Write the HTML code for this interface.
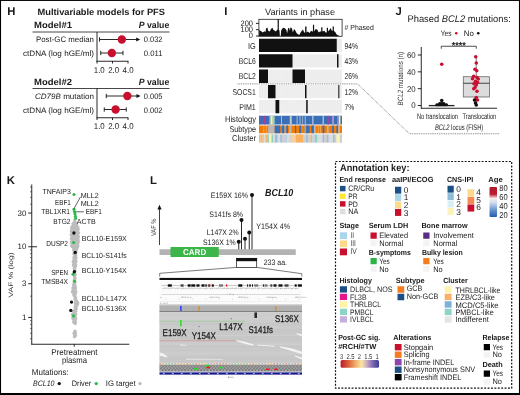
<!DOCTYPE html>
<html lang="en"><head><meta charset="utf-8"><title>Figure panels H-L</title>
<style>
html,body{margin:0;padding:0;background:#fff;}
body{width:520px;height:395px;overflow:hidden;font-family:"Liberation Sans", sans-serif;}
svg{display:block;font-family:"Liberation Sans", sans-serif;}
</style></head><body>
<svg width="520" height="395" viewBox="0 0 520 395" text-rendering="geometricPrecision">
<rect x="0" y="0" width="520" height="395" fill="#fff"/>
<g fill="#1a1a1a">
<text x="7.3" y="14.5" font-size="11.3" font-weight="bold">H</text>
<text x="37.5" y="14.5" font-size="9.04" font-weight="bold" textLength="127.5" lengthAdjust="spacingAndGlyphs">Multivariable models for PFS</text>
<text x="34" y="28" font-size="9.04" font-weight="bold" textLength="38" lengthAdjust="spacingAndGlyphs">Model#1</text>
<text x="138.75" y="28" font-size="9.04" font-weight="bold" textLength="30.5" lengthAdjust="spacingAndGlyphs"><tspan font-style="italic">P</tspan> value</text>
<line x1="32.5" y1="32" x2="169.5" y2="32" stroke="#333" stroke-width="0.9" />
<line x1="97" y1="32" x2="97" y2="61.5" stroke="#111" stroke-width="0.9" />
<line x1="96.6" y1="61.25" x2="128.4" y2="61.25" stroke="#111" stroke-width="0.9" />
<line x1="97" y1="61.25" x2="97" y2="63.5" stroke="#111" stroke-width="0.9" />
<line x1="112.5" y1="61.25" x2="112.5" y2="63.5" stroke="#111" stroke-width="0.9" />
<line x1="128" y1="61.25" x2="128" y2="63.5" stroke="#111" stroke-width="0.9" />
<text x="93.75" y="72.5" font-size="8.47" textLength="11" lengthAdjust="spacingAndGlyphs">1.0</text>
<text x="108.2" y="72.5" font-size="8.47" textLength="11" lengthAdjust="spacingAndGlyphs">2.0</text>
<text x="122.6" y="72.5" font-size="8.47" textLength="11" lengthAdjust="spacingAndGlyphs">4.0</text>
<text x="36" y="42" font-size="7.91" textLength="58" lengthAdjust="spacingAndGlyphs">Post-GC median</text>
<text x="143.75" y="42" font-size="7.91" textLength="18.75" lengthAdjust="spacingAndGlyphs">0.032</text>
<text x="23" y="55.5" font-size="7.91" textLength="71" lengthAdjust="spacingAndGlyphs">ctDNA (log hGE/ml)</text>
<text x="143.75" y="55.5" font-size="7.91" textLength="18.75" lengthAdjust="spacingAndGlyphs">0.011</text>
<line x1="99.5" y1="39.5" x2="138.2" y2="39.5" stroke="#111" stroke-width="0.9" />
<line x1="99.5" y1="37.3" x2="99.5" y2="41.7" stroke="#111" stroke-width="0.9" />
<polygon points="140.2,39.5 136.2,37.5 136.2,41.5" fill="#111"/>
<circle cx="121.85" cy="39.5" r="4.2" fill="#c8102e" />
<line x1="100.75" y1="53" x2="123" y2="53" stroke="#111" stroke-width="0.9" />
<line x1="100.75" y1="50.8" x2="100.75" y2="55.2" stroke="#111" stroke-width="0.9" />
<line x1="123" y1="50.8" x2="123" y2="55.2" stroke="#111" stroke-width="0.9" />
<circle cx="111.85" cy="53" r="4.2" fill="#c8102e" />
<text x="34" y="84.5" font-size="9.04" font-weight="bold" textLength="38" lengthAdjust="spacingAndGlyphs">Model#2</text>
<text x="138.75" y="84.5" font-size="9.04" font-weight="bold" textLength="30.5" lengthAdjust="spacingAndGlyphs"><tspan font-style="italic">P</tspan> value</text>
<line x1="32.5" y1="88.5" x2="169.5" y2="88.5" stroke="#333" stroke-width="0.9" />
<line x1="97" y1="88.5" x2="97" y2="118.0" stroke="#111" stroke-width="0.9" />
<line x1="96.6" y1="117.75" x2="128.4" y2="117.75" stroke="#111" stroke-width="0.9" />
<line x1="97" y1="117.75" x2="97" y2="120.0" stroke="#111" stroke-width="0.9" />
<line x1="112.5" y1="117.75" x2="112.5" y2="120.0" stroke="#111" stroke-width="0.9" />
<line x1="128" y1="117.75" x2="128" y2="120.0" stroke="#111" stroke-width="0.9" />
<text x="93.75" y="129.0" font-size="8.47" textLength="11" lengthAdjust="spacingAndGlyphs">1.0</text>
<text x="108.2" y="129.0" font-size="8.47" textLength="11" lengthAdjust="spacingAndGlyphs">2.0</text>
<text x="122.6" y="129.0" font-size="8.47" textLength="11" lengthAdjust="spacingAndGlyphs">4.0</text>
<text x="35" y="99.0" font-size="7.91" textLength="59" lengthAdjust="spacingAndGlyphs"><tspan font-style="italic">CD79B</tspan> mutation</text>
<text x="143.75" y="99.0" font-size="7.91" textLength="18.75" lengthAdjust="spacingAndGlyphs">0.005</text>
<text x="23" y="112.8" font-size="7.91" textLength="71" lengthAdjust="spacingAndGlyphs">ctDNA (log hGE/ml)</text>
<text x="143.75" y="112.8" font-size="7.91" textLength="18.75" lengthAdjust="spacingAndGlyphs">0.002</text>
<line x1="106.25" y1="96.0" x2="138.5" y2="96.0" stroke="#111" stroke-width="0.9" />
<line x1="106.25" y1="93.8" x2="106.25" y2="98.2" stroke="#111" stroke-width="0.9" />
<polygon points="140.5,96.0 136.5,94.0 136.5,98.0" fill="#111"/>
<circle cx="127.35" cy="96.0" r="4.2" fill="#c8102e" />
<line x1="104.25" y1="109.5" x2="126.25" y2="109.5" stroke="#111" stroke-width="0.9" />
<line x1="104.25" y1="107.3" x2="104.25" y2="111.7" stroke="#111" stroke-width="0.9" />
<line x1="126.25" y1="107.3" x2="126.25" y2="111.7" stroke="#111" stroke-width="0.9" />
<circle cx="115.6" cy="109.5" r="4.2" fill="#c8102e" />
<text x="224.3" y="14.5" font-size="11.3" font-weight="bold">I</text>
<text x="265" y="14.5" font-size="9.04" textLength="70" lengthAdjust="spacingAndGlyphs">Variants in phase</text>
<polygon points="259.11,36.24 259.11,29.84 260.33,30.71 261.54,31.57 262.92,32.44 264.30,31.22 265.52,31.92 266.03,28.46 267.42,27.42 268.11,30.71 269.84,31.57 270.88,28.98 272.44,27.76 273.30,29.84 274.69,30.71 275.90,31.57 277.11,29.84 277.63,29.84 277.63,19.11 278.84,19.11 278.84,29.84 279.53,30.71 279.88,36.24 280.74,36.24 281.09,30.71 282.30,28.46 283.68,27.76 285.07,28.46 286.28,29.84 287.14,33.30 288.18,28.11 289.22,28.11 289.74,30.71 290.60,27.25 291.99,28.46 292.85,32.44 294.06,28.98 295.45,30.71 296.66,33.30 298.04,34.17 299.25,35.03 300.64,32.44 301.85,30.71 303.06,29.49 304.10,32.44 305.13,32.44 305.13,26.38 306.52,26.38 306.52,32.44 307.90,31.57 309.63,32.96 311.02,30.71 312.23,31.57 312.92,31.57 312.92,24.65 314.13,24.65 314.13,31.57 315.69,28.98 317.42,29.84 318.63,32.44 320.01,31.57 321.22,31.57 321.22,27.25 322.44,27.25 322.44,31.57 324.34,30.71 325.55,32.44 326.76,32.44 326.76,27.76 327.97,27.76 327.97,31.57 329.53,29.84 330.74,28.11 331.78,30.71 332.64,30.71 332.64,26.38 333.85,26.38 333.85,30.71 335.58,32.44 336.45,34.17 338.18,35.38 339.91,35.90 340.78,36.24 340.78,36.24" fill="#111"/>
<rect x="258.9" y="19.3" width="83.2" height="17" fill="none" stroke="#222" stroke-width="0.8"/>
<text x="253" y="25.9" font-size="7.91" text-anchor="end" textLength="12.51" lengthAdjust="spacingAndGlyphs">200</text>
<text x="253" y="32.1" font-size="7.91" text-anchor="end" textLength="12.51" lengthAdjust="spacingAndGlyphs">100</text>
<text x="253" y="38.3" font-size="7.91" text-anchor="end" textLength="4.17" lengthAdjust="spacingAndGlyphs">0</text>
<line x1="256" y1="23.4" x2="258.9" y2="23.4" stroke="#111" stroke-width="0.9" />
<line x1="256" y1="29.7" x2="258.9" y2="29.7" stroke="#111" stroke-width="0.9" />
<line x1="256" y1="36" x2="258.9" y2="36" stroke="#111" stroke-width="0.9" />
<text x="344.5" y="29.5" font-size="7.34" textLength="29.25" lengthAdjust="spacingAndGlyphs"># Phased</text>
<defs><pattern id="cols" x="259" y="0" width="1.66" height="10" patternUnits="userSpaceOnUse"><rect x="0" y="0" width="1.66" height="10" fill="#ececec"/><rect x="1.4" y="0" width="0.26" height="10" fill="#f8f8f8"/></pattern></defs>
<rect x="259" y="38.75" width="83" height="13.25" fill="url(#cols)" />
<rect x="259" y="38.75" width="77.75" height="13.25" fill="#111" />
<text x="255.75" y="48.75" font-size="8.47" text-anchor="end" textLength="7.75" lengthAdjust="spacingAndGlyphs">IG</text>
<text x="344.5" y="48.75" font-size="8.47" textLength="13.5" lengthAdjust="spacingAndGlyphs">94%</text>
<rect x="259" y="54.25" width="83" height="13.25" fill="url(#cols)" />
<rect x="259" y="54.25" width="33.5" height="13.25" fill="#111" />
<rect x="337" y="54.25" width="1.5" height="13.25" fill="#111" />
<text x="255.75" y="63.75" font-size="8.47" text-anchor="end" textLength="17" lengthAdjust="spacingAndGlyphs">BCL6</text>
<text x="344.5" y="63.75" font-size="8.47" textLength="13.5" lengthAdjust="spacingAndGlyphs">43%</text>
<rect x="259" y="69.5" width="83" height="13.5" fill="url(#cols)" />
<rect x="259" y="69.5" width="9" height="13.5" fill="#111" />
<rect x="292.5" y="69.5" width="12.5" height="13.5" fill="#111" />
<text x="255.75" y="78.75" font-size="8.47" text-anchor="end" textLength="17" lengthAdjust="spacingAndGlyphs">BCL2</text>
<text x="344.5" y="78.75" font-size="8.47" textLength="13.5" lengthAdjust="spacingAndGlyphs">26%</text>
<rect x="259" y="85" width="83" height="13.25" fill="url(#cols)" />
<rect x="268" y="85" width="7.5" height="13.25" fill="#111" />
<rect x="305" y="85" width="1.5" height="13.25" fill="#111" />
<rect x="338" y="85" width="1.5" height="13.25" fill="#555" />
<text x="255.75" y="94.75" font-size="8.47" text-anchor="end" textLength="23.25" lengthAdjust="spacingAndGlyphs">SOCS1</text>
<text x="344.5" y="94.75" font-size="8.47" textLength="13.5" lengthAdjust="spacingAndGlyphs">12%</text>
<rect x="259" y="100" width="83" height="13.25" fill="url(#cols)" />
<rect x="275.5" y="100" width="3.75" height="13.25" fill="#111" />
<rect x="306.2" y="100" width="1.5" height="13.25" fill="#111" />
<text x="255.75" y="109.75" font-size="8.47" text-anchor="end" textLength="16.5" lengthAdjust="spacingAndGlyphs">PIM1</text>
<text x="344.5" y="109.75" font-size="8.47" textLength="9.7" lengthAdjust="spacingAndGlyphs">7%</text>
<rect x="259" y="115.75" width="83" height="8.75" fill="#3a6fb7" />
<rect x="259.11" y="115.75" width="1.04" height="8.75" fill="#c2339a" />
<rect x="264.13" y="115.75" width="0.87" height="8.75" fill="#c2339a" />
<rect x="269.49" y="115.75" width="1.21" height="8.75" fill="#b5d5d0" />
<rect x="270.71" y="115.75" width="2.08" height="8.75" fill="#f7f59a" />
<rect x="272.78" y="115.75" width="1.9" height="8.75" fill="#9fd0c8" />
<rect x="281.09" y="115.75" width="0.87" height="8.75" fill="#b9c9dc" />
<rect x="289.74" y="115.75" width="2.08" height="8.75" fill="#c0c4cc" />
<rect x="296.66" y="115.75" width="0.87" height="8.75" fill="#b9c9dc" />
<rect x="299.6" y="115.75" width="0.87" height="8.75" fill="#b9c9dc" />
<rect x="302.37" y="115.75" width="0.69" height="8.75" fill="#b9c9dc" />
<rect x="304.79" y="115.75" width="0.87" height="8.75" fill="#b9c9dc" />
<rect x="312.23" y="115.75" width="1.21" height="8.75" fill="#b9c9dc" />
<rect x="322.61" y="115.75" width="1.21" height="8.75" fill="#b9c9dc" />
<rect x="327.8" y="115.75" width="0.87" height="8.75" fill="#c2339a" />
<rect x="332.12" y="115.75" width="1.73" height="8.75" fill="#a99bd0" />
<rect x="337.31" y="115.75" width="1.73" height="8.75" fill="#9a94c4" />
<rect x="339.04" y="115.75" width="1.38" height="8.75" fill="#f7f59a" />
<rect x="259" y="125.5" width="83" height="7.75" fill="#f57c00" />
<rect x="263.61" y="125.5" width="0.52" height="7.75" fill="#f9c08a" />
<rect x="265.86" y="125.5" width="0.52" height="7.75" fill="#f9c08a" />
<rect x="268.11" y="125.5" width="6.57" height="7.75" fill="#b8b8b8" />
<rect x="274.69" y="125.5" width="5.54" height="7.75" fill="#3a6fb7" />
<rect x="281.95" y="125.5" width="2.6" height="7.75" fill="#3a6fb7" />
<rect x="284.55" y="125.5" width="0.87" height="7.75" fill="#b8b8b8" />
<rect x="286.28" y="125.5" width="1.73" height="7.75" fill="#3a6fb7" />
<rect x="289.22" y="125.5" width="2.25" height="7.75" fill="#b8b8b8" />
<rect x="294.93" y="125.5" width="1.21" height="7.75" fill="#3a6fb7" />
<rect x="299.25" y="125.5" width="1.73" height="7.75" fill="#3a6fb7" />
<rect x="304.44" y="125.5" width="1.73" height="7.75" fill="#8aa4c8" />
<rect x="306.17" y="125.5" width="3.46" height="7.75" fill="#3a6fb7" />
<rect x="311.36" y="125.5" width="2.6" height="7.75" fill="#3a6fb7" />
<rect x="313.96" y="125.5" width="1.73" height="7.75" fill="#b8b8b8" />
<rect x="317.94" y="125.5" width="0.52" height="7.75" fill="#f9c08a" />
<rect x="320.01" y="125.5" width="0.52" height="7.75" fill="#f9c08a" />
<rect x="322.61" y="125.5" width="1.73" height="7.75" fill="#3a6fb7" />
<rect x="326.93" y="125.5" width="1.73" height="7.75" fill="#b8b8b8" />
<rect x="332.12" y="125.5" width="1.73" height="7.75" fill="#3a6fb7" />
<rect x="336.45" y="125.5" width="1.73" height="7.75" fill="#3a6fb7" />
<rect x="338.18" y="125.5" width="1.73" height="7.75" fill="#b8b8b8" />
<rect x="259" y="134.5" width="83" height="8.0" fill="#dcdcdc" />
<rect x="259.11" y="134.5" width="4.67" height="8.0" fill="#f9b66b" />
<rect x="260.67" y="134.5" width="0.35" height="8.0" fill="#dcdcdc" />
<rect x="262.23" y="134.5" width="0.35" height="8.0" fill="#dcdcdc" />
<rect x="263.79" y="134.5" width="1.73" height="8.0" fill="#dcdcdc" />
<rect x="265.52" y="134.5" width="1.73" height="8.0" fill="#f9b66b" />
<rect x="267.25" y="134.5" width="1.73" height="8.0" fill="#8fd3c3" />
<rect x="268.98" y="134.5" width="2.6" height="8.0" fill="#fbf5b5" />
<rect x="271.57" y="134.5" width="1.73" height="8.0" fill="#8fd3c3" />
<rect x="273.3" y="134.5" width="1.73" height="8.0" fill="#dcdcdc" />
<rect x="275.03" y="134.5" width="2.6" height="8.0" fill="#9bbfe0" />
<rect x="277.63" y="134.5" width="2.6" height="8.0" fill="#dcdcdc" />
<rect x="280.22" y="134.5" width="1.73" height="8.0" fill="#9bbfe0" />
<rect x="281.95" y="134.5" width="2.6" height="8.0" fill="#cfcfcf" />
<rect x="284.55" y="134.5" width="2.6" height="8.0" fill="#b9cfe4" />
<rect x="287.14" y="134.5" width="2.6" height="8.0" fill="#dcdcdc" />
<rect x="289.74" y="134.5" width="1.73" height="8.0" fill="#cfcfcf" />
<rect x="291.47" y="134.5" width="4.33" height="8.0" fill="#fbcf9c" />
<rect x="295.79" y="134.5" width="7.27" height="8.0" fill="#fbb05f" />
<rect x="303.06" y="134.5" width="3.11" height="8.0" fill="#cfcfcf" />
<rect x="306.17" y="134.5" width="1.73" height="8.0" fill="#9bbfe0" />
<rect x="307.9" y="134.5" width="2.6" height="8.0" fill="#cfcfcf" />
<rect x="310.5" y="134.5" width="1.73" height="8.0" fill="#f9b66b" />
<rect x="312.23" y="134.5" width="2.6" height="8.0" fill="#c4d4e4" />
<rect x="314.82" y="134.5" width="2.6" height="8.0" fill="#8fd3c3" />
<rect x="317.42" y="134.5" width="5.19" height="8.0" fill="#dcdcdc" />
<rect x="322.61" y="134.5" width="1.73" height="8.0" fill="#9bbfe0" />
<rect x="324.34" y="134.5" width="2.6" height="8.0" fill="#cfcfcf" />
<rect x="326.93" y="134.5" width="1.73" height="8.0" fill="#9bbfe0" />
<rect x="328.66" y="134.5" width="4.33" height="8.0" fill="#dcdcdc" />
<rect x="332.99" y="134.5" width="1.73" height="8.0" fill="#9bbfe0" />
<rect x="334.72" y="134.5" width="1.73" height="8.0" fill="#cfcfcf" />
<rect x="336.45" y="134.5" width="3.46" height="8.0" fill="#fbf5b5" />
<rect x="339.91" y="134.5" width="2.08" height="8.0" fill="#cfcfcf" />
<text x="256" y="122" font-size="8.47" text-anchor="end" textLength="31" lengthAdjust="spacingAndGlyphs">Histology</text>
<text x="256" y="132.3" font-size="8.47" text-anchor="end" textLength="26.5" lengthAdjust="spacingAndGlyphs">Subtype</text>
<text x="256" y="141.2" font-size="8.47" text-anchor="end" textLength="24" lengthAdjust="spacingAndGlyphs">Cluster</text>
<polyline points="237.5,83.9 357.5,83.9 409.5,133.75 500,133.75" fill="none" stroke="#444" stroke-width="0.7" stroke-dasharray="0.9 0.9"/>
<text x="395.6" y="14.7" font-size="11.3" font-weight="bold">J</text>
<text x="407.5" y="22.2" font-size="9.6" textLength="103.25" lengthAdjust="spacingAndGlyphs">Phased <tspan font-style="italic">BCL2</tspan> mutations:</text>
<text x="440.75" y="35.5" font-size="7.91" textLength="10.75" lengthAdjust="spacingAndGlyphs">Yes</text>
<circle cx="456.25" cy="33.25" r="1.3" fill="#c8102e" />
<text x="463.75" y="35.5" font-size="7.91" textLength="10" lengthAdjust="spacingAndGlyphs">No</text>
<circle cx="478.25" cy="33.25" r="1.3" fill="#111" />
<polyline points="441.25,48.75 441.25,46.25 476.25,46.25 476.25,48.75" fill="none" stroke="#222" stroke-width="0.8"/>
<text x="458.75" y="49" font-size="10.17" font-weight="bold" text-anchor="middle" textLength="14.2" lengthAdjust="spacingAndGlyphs">****</text>
<line x1="421.25" y1="47" x2="421.25" y2="108.6" stroke="#111" stroke-width="0.9" />
<line x1="420.9" y1="108.25" x2="497" y2="108.25" stroke="#111" stroke-width="0.9" />
<line x1="417.8" y1="55" x2="421.25" y2="55" stroke="#111" stroke-width="0.9" />
<text x="415.7" y="57.9" font-size="8.31" text-anchor="end" textLength="8.7" lengthAdjust="spacingAndGlyphs">60</text>
<line x1="417.8" y1="71.85" x2="421.25" y2="71.85" stroke="#111" stroke-width="0.9" />
<text x="415.7" y="74.75" font-size="8.31" text-anchor="end" textLength="8.7" lengthAdjust="spacingAndGlyphs">40</text>
<line x1="417.8" y1="88.7" x2="421.25" y2="88.7" stroke="#111" stroke-width="0.9" />
<text x="415.7" y="91.60000000000001" font-size="8.31" text-anchor="end" textLength="8.7" lengthAdjust="spacingAndGlyphs">20</text>
<line x1="417.8" y1="105.5" x2="421.25" y2="105.5" stroke="#111" stroke-width="0.9" />
<text x="415.7" y="108.4" font-size="8.31" text-anchor="end" textLength="4.4" lengthAdjust="spacingAndGlyphs">0</text>
<text transform="translate(403.2,78.7) rotate(-90)" font-size="7.6" text-anchor="middle" textLength="53.5" lengthAdjust="spacingAndGlyphs" fill="#333"><tspan font-style="italic">BCL2</tspan> mutations (n)</text>
<line x1="476.25" y1="56.25" x2="476.25" y2="105" stroke="#444" stroke-width="0.7" />
<rect x="463.25" y="76.75" width="26.25" height="20.25" fill="#dcdcdc" stroke="#555" stroke-width="0.7"/>
<line x1="463.25" y1="83.25" x2="489.5" y2="83.25" stroke="#333" stroke-width="0.9" />
<line x1="428.75" y1="105.6" x2="454.5" y2="105.6" stroke="#222" stroke-width="1.3" />
<circle cx="475.75" cy="56.75" r="1.8" fill="#c8102e" />
<circle cx="476.25" cy="63.0" r="1.8" fill="#c8102e" />
<circle cx="475.0" cy="69.25" r="1.8" fill="#c8102e" />
<circle cx="476.75" cy="70.75" r="1.8" fill="#c8102e" />
<circle cx="473.75" cy="76.25" r="1.8" fill="#c8102e" />
<circle cx="477.0" cy="77.5" r="1.8" fill="#c8102e" />
<circle cx="478.25" cy="79.0" r="1.8" fill="#c8102e" />
<circle cx="472.5" cy="78.75" r="1.8" fill="#c8102e" />
<circle cx="475.5" cy="81.25" r="1.8" fill="#c8102e" />
<circle cx="477.5" cy="82.5" r="1.8" fill="#c8102e" />
<circle cx="474.0" cy="83.75" r="1.8" fill="#c8102e" />
<circle cx="476.25" cy="85.0" r="1.8" fill="#c8102e" />
<circle cx="475.0" cy="87.5" r="1.8" fill="#c8102e" />
<circle cx="477.0" cy="91.25" r="1.8" fill="#c8102e" />
<circle cx="473.75" cy="88.75" r="1.8" fill="#c8102e" />
<circle cx="476.25" cy="97.5" r="1.8" fill="#c8102e" />
<circle cx="477.5" cy="100.0" r="1.8" fill="#c8102e" />
<circle cx="474.5" cy="100.0" r="1.8" fill="#111" />
<circle cx="475.5" cy="103.0" r="1.8" fill="#111" />
<circle cx="476.25" cy="105.0" r="1.8" fill="#111" />
<circle cx="441.75" cy="64.25" r="1.8" fill="#c8102e" />
<circle cx="441.75" cy="100.5" r="1.8" fill="#111" />
<circle cx="436.75" cy="104.8" r="1.5" fill="#111" />
<circle cx="438.15" cy="104.8" r="1.5" fill="#111" />
<circle cx="439.55" cy="104.8" r="1.5" fill="#111" />
<circle cx="440.95" cy="104.8" r="1.5" fill="#111" />
<circle cx="442.35" cy="104.8" r="1.5" fill="#111" />
<circle cx="443.75" cy="104.8" r="1.5" fill="#111" />
<circle cx="445.15" cy="104.8" r="1.5" fill="#111" />
<circle cx="446.55" cy="104.8" r="1.5" fill="#111" />
<circle cx="439.75" cy="103.3" r="1.4" fill="#111" />
<circle cx="441.75" cy="103.3" r="1.4" fill="#111" />
<circle cx="443.75" cy="103.3" r="1.4" fill="#111" />
<text x="417" y="119.25" font-size="8.02" fill="#222" textLength="41" lengthAdjust="spacingAndGlyphs">No translocation</text>
<text x="462.5" y="119.25" font-size="8.02" fill="#222" textLength="33.75" lengthAdjust="spacingAndGlyphs">Translocation</text>
<text x="435" y="129.5" font-size="8.02" fill="#222" textLength="48.25" lengthAdjust="spacingAndGlyphs"><tspan font-style="italic">BCL2</tspan> locus (FISH)</text>
<text x="6.8" y="183.75" font-size="11.3" font-weight="bold">K</text>
<line x1="31.75" y1="184.5" x2="31.75" y2="344.6" stroke="#111" stroke-width="0.9" />
<line x1="31.35" y1="344.25" x2="129.25" y2="344.25" stroke="#111" stroke-width="0.9" />
<line x1="74.25" y1="344.25" x2="74.25" y2="346.7" stroke="#111" stroke-width="0.9" />
<line x1="28.2" y1="213.01752729131988" x2="31.75" y2="213.01752729131988" stroke="#111" stroke-width="0.9" />
<text x="26.3" y="215.51752729131988" font-size="7.91" text-anchor="end">30</text>
<line x1="28.2" y1="246.75" x2="31.75" y2="246.75" stroke="#111" stroke-width="0.9" />
<text x="26.3" y="249.25" font-size="7.91" text-anchor="end">10</text>
<line x1="28.2" y1="283.71752729131987" x2="31.75" y2="283.71752729131987" stroke="#111" stroke-width="0.9" />
<text x="26.3" y="286.21752729131987" font-size="7.91" text-anchor="end">3</text>
<line x1="28.2" y1="317.45" x2="31.75" y2="317.45" stroke="#111" stroke-width="0.9" />
<text x="26.3" y="319.95" font-size="7.91" text-anchor="end">1</text>
<line x1="31.75" y1="246.75" x2="37" y2="246.75" stroke="#111" stroke-width="0.9" />
<line x1="30" y1="187.00156857099205" x2="31.75" y2="187.00156857099205" stroke="#222" stroke-width="0.6" />
<line x1="30" y1="191.7347065978764" x2="31.75" y2="191.7347065978764" stroke="#222" stroke-width="0.6" />
<line x1="30" y1="197.33282069344347" x2="31.75" y2="197.33282069344347" stroke="#222" stroke-width="0.6" />
<line x1="30" y1="204.18435861311306" x2="31.75" y2="204.18435861311306" stroke="#222" stroke-width="0.6" />
<line x1="30" y1="225.46717930655652" x2="31.75" y2="225.46717930655652" stroke="#222" stroke-width="0.6" />
<line x1="30" y1="249.98505458263972" x2="31.75" y2="249.98505458263972" stroke="#222" stroke-width="0.6" />
<line x1="30" y1="253.6015379196696" x2="31.75" y2="253.6015379196696" stroke="#222" stroke-width="0.6" />
<line x1="30" y1="257.70156857099204" x2="31.75" y2="257.70156857099204" stroke="#222" stroke-width="0.6" />
<line x1="30" y1="262.4347065978764" x2="31.75" y2="262.4347065978764" stroke="#222" stroke-width="0.6" />
<line x1="30" y1="268.03282069344345" x2="31.75" y2="268.03282069344345" stroke="#222" stroke-width="0.6" />
<line x1="30" y1="274.8843586131131" x2="31.75" y2="274.8843586131131" stroke="#222" stroke-width="0.6" />
<line x1="30" y1="296.16717930655653" x2="31.75" y2="296.16717930655653" stroke="#222" stroke-width="0.6" />
<line x1="30" y1="320.68505458263974" x2="31.75" y2="320.68505458263974" stroke="#222" stroke-width="0.6" />
<line x1="30" y1="324.3015379196696" x2="31.75" y2="324.3015379196696" stroke="#222" stroke-width="0.6" />
<line x1="30" y1="328.401568570992" x2="31.75" y2="328.401568570992" stroke="#222" stroke-width="0.6" />
<line x1="30" y1="333.1347065978764" x2="31.75" y2="333.1347065978764" stroke="#222" stroke-width="0.6" />
<line x1="30" y1="338.7328206934435" x2="31.75" y2="338.7328206934435" stroke="#222" stroke-width="0.6" />
<text transform="translate(12.6,275) rotate(-90)" font-size="6.4" text-anchor="middle" textLength="45" lengthAdjust="spacingAndGlyphs" fill="#333">VAF % (log)</text>
<circle cx="74.75" cy="220.05" r="1.6" fill="#bdbdbf" />
<circle cx="73.9" cy="222.85" r="1.6" fill="#bdbdbf" />
<circle cx="74.75" cy="221.95" r="1.6" fill="#bdbdbf" />
<circle cx="75.6" cy="222.85" r="1.6" fill="#bdbdbf" />
<circle cx="72.95" cy="223.85" r="1.6" fill="#bdbdbf" />
<circle cx="74.15" cy="224.75" r="1.6" fill="#bdbdbf" />
<circle cx="75.35" cy="223.85" r="1.6" fill="#bdbdbf" />
<circle cx="76.55" cy="224.75" r="1.6" fill="#bdbdbf" />
<circle cx="72.05" cy="226.65" r="1.6" fill="#bdbdbf" />
<circle cx="73.4" cy="225.75" r="1.6" fill="#bdbdbf" />
<circle cx="74.75" cy="226.65" r="1.6" fill="#bdbdbf" />
<circle cx="76.1" cy="225.75" r="1.6" fill="#bdbdbf" />
<circle cx="77.45" cy="226.65" r="1.6" fill="#bdbdbf" />
<circle cx="71.61" cy="227.65" r="1.6" fill="#bdbdbf" />
<circle cx="73.2" cy="228.55" r="1.6" fill="#bdbdbf" />
<circle cx="74.78" cy="227.65" r="1.6" fill="#bdbdbf" />
<circle cx="76.37" cy="228.55" r="1.6" fill="#bdbdbf" />
<circle cx="77.96" cy="227.65" r="1.6" fill="#bdbdbf" />
<circle cx="71.4" cy="230.45" r="1.6" fill="#bdbdbf" />
<circle cx="72.76" cy="229.55" r="1.6" fill="#bdbdbf" />
<circle cx="74.12" cy="230.45" r="1.6" fill="#bdbdbf" />
<circle cx="75.48" cy="229.55" r="1.6" fill="#bdbdbf" />
<circle cx="76.84" cy="230.45" r="1.6" fill="#bdbdbf" />
<circle cx="78.2" cy="229.55" r="1.6" fill="#bdbdbf" />
<circle cx="71.4" cy="231.45" r="1.6" fill="#bdbdbf" />
<circle cx="72.76" cy="232.35" r="1.6" fill="#bdbdbf" />
<circle cx="74.12" cy="231.45" r="1.6" fill="#bdbdbf" />
<circle cx="75.48" cy="232.35" r="1.6" fill="#bdbdbf" />
<circle cx="76.84" cy="231.45" r="1.6" fill="#bdbdbf" />
<circle cx="78.2" cy="232.35" r="1.6" fill="#bdbdbf" />
<circle cx="71.4" cy="234.25" r="1.6" fill="#bdbdbf" />
<circle cx="72.76" cy="233.35" r="1.6" fill="#bdbdbf" />
<circle cx="74.12" cy="234.25" r="1.6" fill="#bdbdbf" />
<circle cx="75.48" cy="233.35" r="1.6" fill="#bdbdbf" />
<circle cx="76.84" cy="234.25" r="1.6" fill="#bdbdbf" />
<circle cx="78.2" cy="233.35" r="1.6" fill="#bdbdbf" />
<circle cx="71.4" cy="235.25" r="1.6" fill="#bdbdbf" />
<circle cx="72.76" cy="236.15" r="1.6" fill="#bdbdbf" />
<circle cx="74.12" cy="235.25" r="1.6" fill="#bdbdbf" />
<circle cx="75.48" cy="236.15" r="1.6" fill="#bdbdbf" />
<circle cx="76.84" cy="235.25" r="1.6" fill="#bdbdbf" />
<circle cx="78.2" cy="236.15" r="1.6" fill="#bdbdbf" />
<circle cx="71.4" cy="238.05" r="1.6" fill="#bdbdbf" />
<circle cx="72.76" cy="237.15" r="1.6" fill="#bdbdbf" />
<circle cx="74.12" cy="238.05" r="1.6" fill="#bdbdbf" />
<circle cx="75.48" cy="237.15" r="1.6" fill="#bdbdbf" />
<circle cx="76.84" cy="238.05" r="1.6" fill="#bdbdbf" />
<circle cx="78.2" cy="237.15" r="1.6" fill="#bdbdbf" />
<circle cx="71.4" cy="239.05" r="1.6" fill="#bdbdbf" />
<circle cx="72.76" cy="239.95" r="1.6" fill="#bdbdbf" />
<circle cx="74.12" cy="239.05" r="1.6" fill="#bdbdbf" />
<circle cx="75.48" cy="239.95" r="1.6" fill="#bdbdbf" />
<circle cx="76.84" cy="239.05" r="1.6" fill="#bdbdbf" />
<circle cx="78.2" cy="239.95" r="1.6" fill="#bdbdbf" />
<circle cx="71.45" cy="241.85" r="1.6" fill="#bdbdbf" />
<circle cx="73.12" cy="240.95" r="1.6" fill="#bdbdbf" />
<circle cx="74.79" cy="241.85" r="1.6" fill="#bdbdbf" />
<circle cx="76.46" cy="240.95" r="1.6" fill="#bdbdbf" />
<circle cx="78.13" cy="241.85" r="1.6" fill="#bdbdbf" />
<circle cx="71.51" cy="242.85" r="1.6" fill="#bdbdbf" />
<circle cx="73.14" cy="243.75" r="1.6" fill="#bdbdbf" />
<circle cx="74.77" cy="242.85" r="1.6" fill="#bdbdbf" />
<circle cx="76.4" cy="243.75" r="1.6" fill="#bdbdbf" />
<circle cx="78.03" cy="242.85" r="1.6" fill="#bdbdbf" />
<circle cx="71.57" cy="245.65" r="1.6" fill="#bdbdbf" />
<circle cx="73.16" cy="244.75" r="1.6" fill="#bdbdbf" />
<circle cx="74.76" cy="245.65" r="1.6" fill="#bdbdbf" />
<circle cx="76.35" cy="244.75" r="1.6" fill="#bdbdbf" />
<circle cx="77.94" cy="245.65" r="1.6" fill="#bdbdbf" />
<circle cx="72.33" cy="246.65" r="1.6" fill="#bdbdbf" />
<circle cx="74.01" cy="247.55" r="1.6" fill="#bdbdbf" />
<circle cx="75.68" cy="246.65" r="1.6" fill="#bdbdbf" />
<circle cx="77.35" cy="247.55" r="1.6" fill="#bdbdbf" />
<circle cx="73.6" cy="249.45" r="1.6" fill="#bdbdbf" />
<circle cx="75.0" cy="248.55" r="1.6" fill="#bdbdbf" />
<circle cx="76.4" cy="249.45" r="1.6" fill="#bdbdbf" />
<circle cx="73.92" cy="250.45" r="1.6" fill="#bdbdbf" />
<circle cx="74.94" cy="251.35" r="1.6" fill="#bdbdbf" />
<circle cx="75.96" cy="250.45" r="1.6" fill="#bdbdbf" />
<circle cx="74.1" cy="253.25" r="1.6" fill="#bdbdbf" />
<circle cx="75.73" cy="252.35" r="1.6" fill="#bdbdbf" />
<circle cx="74.1" cy="254.25" r="1.6" fill="#bdbdbf" />
<circle cx="75.79" cy="255.15" r="1.6" fill="#bdbdbf" />
<circle cx="74.1" cy="257.05" r="1.6" fill="#bdbdbf" />
<circle cx="74.98" cy="256.15" r="1.6" fill="#bdbdbf" />
<circle cx="75.85" cy="257.05" r="1.6" fill="#bdbdbf" />
<circle cx="73.97" cy="258.05" r="1.6" fill="#bdbdbf" />
<circle cx="74.94" cy="258.95" r="1.6" fill="#bdbdbf" />
<circle cx="75.9" cy="258.05" r="1.6" fill="#bdbdbf" />
<circle cx="73.5" cy="260.85" r="1.6" fill="#bdbdbf" />
<circle cx="74.7" cy="259.95" r="1.6" fill="#bdbdbf" />
<circle cx="75.9" cy="260.85" r="1.6" fill="#bdbdbf" />
<circle cx="73.14" cy="261.85" r="1.6" fill="#bdbdbf" />
<circle cx="74.51" cy="262.75" r="1.6" fill="#bdbdbf" />
<circle cx="75.89" cy="261.85" r="1.6" fill="#bdbdbf" />
<circle cx="73.38" cy="264.65" r="1.6" fill="#bdbdbf" />
<circle cx="74.58" cy="263.75" r="1.6" fill="#bdbdbf" />
<circle cx="75.79" cy="264.65" r="1.6" fill="#bdbdbf" />
<circle cx="73.63" cy="265.65" r="1.6" fill="#bdbdbf" />
<circle cx="74.65" cy="266.55" r="1.6" fill="#bdbdbf" />
<circle cx="75.67" cy="265.65" r="1.6" fill="#bdbdbf" />
<circle cx="74.27" cy="268.45" r="1.6" fill="#bdbdbf" />
<circle cx="75.03" cy="267.55" r="1.6" fill="#bdbdbf" />
<circle cx="74.49" cy="269.45" r="1.6" fill="#bdbdbf" />
<circle cx="74.75" cy="270.35" r="1.6" fill="#bdbdbf" />
<circle cx="74.25" cy="272.25" r="1.6" fill="#bdbdbf" />
<circle cx="74.84" cy="271.35" r="1.6" fill="#bdbdbf" />
<circle cx="74.17" cy="273.25" r="1.6" fill="#bdbdbf" />
<circle cx="74.9" cy="274.15" r="1.6" fill="#bdbdbf" />
<circle cx="74.36" cy="276.05" r="1.6" fill="#bdbdbf" />
<circle cx="74.9" cy="275.15" r="1.6" fill="#bdbdbf" />
<circle cx="74.55" cy="277.05" r="1.6" fill="#bdbdbf" />
<circle cx="74.9" cy="277.95" r="1.6" fill="#bdbdbf" />
<circle cx="74.43" cy="279.85" r="1.6" fill="#bdbdbf" />
<circle cx="74.9" cy="278.95" r="1.6" fill="#bdbdbf" />
<circle cx="74.2" cy="280.85" r="1.6" fill="#bdbdbf" />
<circle cx="74.9" cy="281.75" r="1.6" fill="#bdbdbf" />
<circle cx="73.96" cy="283.65" r="1.6" fill="#bdbdbf" />
<circle cx="74.92" cy="282.75" r="1.6" fill="#bdbdbf" />
<circle cx="73.62" cy="284.65" r="1.6" fill="#bdbdbf" />
<circle cx="75.11" cy="285.55" r="1.6" fill="#bdbdbf" />
<circle cx="73.28" cy="287.45" r="1.6" fill="#bdbdbf" />
<circle cx="74.29" cy="286.55" r="1.6" fill="#bdbdbf" />
<circle cx="75.3" cy="287.45" r="1.6" fill="#bdbdbf" />
<circle cx="72.92" cy="288.45" r="1.6" fill="#bdbdbf" />
<circle cx="74.19" cy="289.35" r="1.6" fill="#bdbdbf" />
<circle cx="75.47" cy="288.45" r="1.6" fill="#bdbdbf" />
<circle cx="72.54" cy="291.25" r="1.6" fill="#bdbdbf" />
<circle cx="74.08" cy="290.35" r="1.6" fill="#bdbdbf" />
<circle cx="75.61" cy="291.25" r="1.6" fill="#bdbdbf" />
<circle cx="72.7" cy="292.25" r="1.6" fill="#bdbdbf" />
<circle cx="74.13" cy="293.15" r="1.6" fill="#bdbdbf" />
<circle cx="75.56" cy="292.25" r="1.6" fill="#bdbdbf" />
<circle cx="73.79" cy="295.05" r="1.6" fill="#bdbdbf" />
<circle cx="75.18" cy="294.15" r="1.6" fill="#bdbdbf" />
<circle cx="74.68" cy="296.05" r="1.6" fill="#bdbdbf" />
<circle cx="75.07" cy="296.95" r="1.6" fill="#bdbdbf" />
<circle cx="75.0" cy="298.85" r="1.6" fill="#bdbdbf" />
<circle cx="75.7" cy="297.95" r="1.6" fill="#bdbdbf" />
<circle cx="75.2" cy="299.85" r="1.6" fill="#bdbdbf" />
<circle cx="76.65" cy="300.75" r="1.6" fill="#bdbdbf" />
<circle cx="75.34" cy="302.65" r="1.6" fill="#bdbdbf" />
<circle cx="76.54" cy="301.75" r="1.6" fill="#bdbdbf" />
<circle cx="77.74" cy="302.65" r="1.6" fill="#bdbdbf" />
<circle cx="75.4" cy="303.65" r="1.6" fill="#bdbdbf" />
<circle cx="76.56" cy="304.55" r="1.6" fill="#bdbdbf" />
<circle cx="77.72" cy="303.65" r="1.6" fill="#bdbdbf" />
<circle cx="75.4" cy="306.45" r="1.6" fill="#bdbdbf" />
<circle cx="76.9" cy="305.55" r="1.6" fill="#bdbdbf" />
<circle cx="75.21" cy="307.45" r="1.6" fill="#bdbdbf" />
<circle cx="76.27" cy="308.35" r="1.6" fill="#bdbdbf" />
<circle cx="74.57" cy="310.25" r="1.6" fill="#bdbdbf" />
<circle cx="75.85" cy="309.35" r="1.6" fill="#bdbdbf" />
<circle cx="73.3" cy="311.25" r="1.6" fill="#bdbdbf" />
<circle cx="74.51" cy="312.15" r="1.6" fill="#bdbdbf" />
<circle cx="75.72" cy="311.25" r="1.6" fill="#bdbdbf" />
<circle cx="72.67" cy="314.05" r="1.6" fill="#bdbdbf" />
<circle cx="74.19" cy="313.15" r="1.6" fill="#bdbdbf" />
<circle cx="75.7" cy="314.05" r="1.6" fill="#bdbdbf" />
<circle cx="72.4" cy="315.05" r="1.6" fill="#bdbdbf" />
<circle cx="74.05" cy="315.95" r="1.6" fill="#bdbdbf" />
<circle cx="75.7" cy="315.05" r="1.6" fill="#bdbdbf" />
<circle cx="72.78" cy="317.85" r="1.6" fill="#bdbdbf" />
<circle cx="74.24" cy="316.95" r="1.6" fill="#bdbdbf" />
<circle cx="75.7" cy="317.85" r="1.6" fill="#bdbdbf" />
<circle cx="73.17" cy="318.85" r="1.6" fill="#bdbdbf" />
<circle cx="74.43" cy="319.75" r="1.6" fill="#bdbdbf" />
<circle cx="75.68" cy="318.85" r="1.6" fill="#bdbdbf" />
<circle cx="73.65" cy="321.65" r="1.6" fill="#bdbdbf" />
<circle cx="74.59" cy="320.75" r="1.6" fill="#bdbdbf" />
<circle cx="75.54" cy="321.65" r="1.6" fill="#bdbdbf" />
<circle cx="74.14" cy="322.65" r="1.6" fill="#bdbdbf" />
<circle cx="75.36" cy="323.55" r="1.6" fill="#bdbdbf" />
<circle cx="74.8" cy="331.4" r="1.6" fill="#bdbdbf" />
<circle cx="75.6" cy="333" r="1.6" fill="#bdbdbf" />
<circle cx="74" cy="333.2" r="1.6" fill="#bdbdbf" />
<circle cx="74.6" cy="335" r="1.6" fill="#bdbdbf" />
<circle cx="75.6" cy="335.6" r="1.6" fill="#bdbdbf" />
<circle cx="74.4" cy="336.8" r="1.6" fill="#bdbdbf" />
<circle cx="75" cy="331" r="1.6" fill="#bdbdbf" />
<circle cx="74" cy="194.5" r="1.55" fill="#2db84d" />
<circle cx="74" cy="209.3" r="1.55" fill="#2db84d" />
<circle cx="74.4" cy="211.5" r="1.55" fill="#2db84d" />
<circle cx="75" cy="213.75" r="1.55" fill="#2db84d" />
<circle cx="75.4" cy="216.2" r="1.55" fill="#2db84d" />
<circle cx="75.6" cy="218.2" r="1.55" fill="#2db84d" />
<circle cx="73.6" cy="242.5" r="1.55" fill="#2db84d" />
<circle cx="73" cy="274.25" r="1.55" fill="#2db84d" />
<circle cx="74.5" cy="281.2" r="1.55" fill="#2db84d" />
<circle cx="73.5" cy="315.9" r="1.55" fill="#2db84d" />
<circle cx="73.9" cy="233" r="1.65" fill="#111" />
<circle cx="75.2" cy="252.5" r="1.65" fill="#111" />
<circle cx="74.4" cy="271.75" r="1.65" fill="#111" />
<circle cx="71.5" cy="302.1" r="1.65" fill="#111" />
<circle cx="70.8" cy="310.4" r="1.65" fill="#111" />
<line x1="80.5" y1="196.8" x2="73.9" y2="208.8" stroke="#222" stroke-width="0.7" />
<line x1="83.8" y1="211.8" x2="75.5" y2="211.8" stroke="#222" stroke-width="0.7" />
<text x="42.5" y="194.25" font-size="7.46" textLength="28.25" lengthAdjust="spacingAndGlyphs">TNFAIP3</text>
<text x="80.75" y="197.5" font-size="7.46" textLength="18.0" lengthAdjust="spacingAndGlyphs">MLL2</text>
<text x="55" y="205" font-size="7.46" textLength="15.75" lengthAdjust="spacingAndGlyphs">EBF1</text>
<text x="80.75" y="205.75" font-size="7.46" textLength="18.0" lengthAdjust="spacingAndGlyphs">MLL2</text>
<text x="41.25" y="214.25" font-size="7.46" textLength="28.75" lengthAdjust="spacingAndGlyphs">TBL1XR1</text>
<text x="85.75" y="214.25" font-size="7.46" textLength="16.0" lengthAdjust="spacingAndGlyphs">EBF1</text>
<text x="53.25" y="224.25" font-size="7.46" textLength="17.25" lengthAdjust="spacingAndGlyphs">BTG2</text>
<text x="76.75" y="224.25" font-size="7.46" textLength="19.0" lengthAdjust="spacingAndGlyphs">ACTB</text>
<text x="81.75" y="240.5" font-size="7.46" textLength="45.0" lengthAdjust="spacingAndGlyphs">BCL10-E159X</text>
<text x="46.25" y="246.25" font-size="7.46" textLength="21.75" lengthAdjust="spacingAndGlyphs">DUSP2</text>
<text x="81.75" y="258" font-size="7.46" textLength="45.0" lengthAdjust="spacingAndGlyphs">BCL10-S141fs</text>
<text x="51.25" y="275" font-size="7.46" textLength="16.75" lengthAdjust="spacingAndGlyphs">SPEN</text>
<text x="81.75" y="273" font-size="7.46" textLength="45.0" lengthAdjust="spacingAndGlyphs">BCL10-Y154X</text>
<text x="41.25" y="283.75" font-size="7.46" textLength="26.75" lengthAdjust="spacingAndGlyphs">TMSB4X</text>
<text x="81.75" y="301.25" font-size="7.46" textLength="45.0" lengthAdjust="spacingAndGlyphs">BCL10-L147X</text>
<text x="81.75" y="311.25" font-size="7.46" textLength="45.0" lengthAdjust="spacingAndGlyphs">BCL10-S136X</text>
<text x="51.25" y="354.5" font-size="8.47" textLength="46.25" lengthAdjust="spacingAndGlyphs">Pretreatment</text>
<text x="62" y="362.5" font-size="8.47" textLength="25" lengthAdjust="spacingAndGlyphs">plasma</text>
<text x="31.75" y="375" font-size="8.47" textLength="37" lengthAdjust="spacingAndGlyphs">Mutations:</text>
<text x="33" y="385.5" font-size="7.91" font-style="italic" textLength="21.5" lengthAdjust="spacingAndGlyphs">BCL10</text>
<circle cx="59.25" cy="383.6" r="1.7" fill="#111" />
<text x="71.75" y="385.5" font-size="7.91" textLength="19.5" lengthAdjust="spacingAndGlyphs">Driver</text>
<circle cx="96.25" cy="383.6" r="1.7" fill="#2db84d" />
<text x="105.75" y="385.5" font-size="7.91" textLength="30" lengthAdjust="spacingAndGlyphs">IG target</text>
<circle cx="140" cy="383.6" r="1.7" fill="#bdbdbf" />
<text x="150" y="183.75" font-size="11.3" font-weight="bold">L</text>
<line x1="159.5" y1="245" x2="159.5" y2="208" stroke="#111" stroke-width="0.8" />
<polygon points="159.5,204.8 157.4,209.5 161.6,209.5" fill="#111"/>
<text transform="translate(155.8,227.3) rotate(-90)" font-size="7" text-anchor="middle" textLength="17.5" lengthAdjust="spacingAndGlyphs" fill="#333">VAF %</text>
<rect x="159.5" y="249.25" width="136.25" height="5.75" fill="#b3b3b3" />
<rect x="170.5" y="247" width="48.25" height="10" fill="#3cb54a" />
<text x="183" y="254.5" font-size="8.47" font-weight="bold" fill="#fff" textLength="23.25" lengthAdjust="spacingAndGlyphs">CARD</text>
<line x1="252" y1="195" x2="252" y2="249.25" stroke="#111" stroke-width="0.9" />
<circle cx="252" cy="195" r="2" fill="#111" />
<line x1="241.5" y1="220" x2="241.5" y2="249.25" stroke="#111" stroke-width="0.9" />
<circle cx="241.5" cy="220" r="2" fill="#111" />
<line x1="249.25" y1="232.5" x2="249.25" y2="249.25" stroke="#111" stroke-width="0.9" />
<circle cx="249.25" cy="232.5" r="2" fill="#111" />
<line x1="245" y1="238.75" x2="245" y2="249.25" stroke="#111" stroke-width="0.9" />
<circle cx="245" cy="238.75" r="2" fill="#111" />
<line x1="238.75" y1="241.75" x2="238.75" y2="249.25" stroke="#111" stroke-width="0.9" />
<circle cx="238.75" cy="241.75" r="2" fill="#111" />
<text x="210.75" y="198.25" font-size="7.91" textLength="37.25" lengthAdjust="spacingAndGlyphs">E159X 16%</text>
<text x="209.25" y="216.75" font-size="7.91" textLength="33.75" lengthAdjust="spacingAndGlyphs">S141fs 8%</text>
<text x="206.75" y="235" font-size="7.91" textLength="32" lengthAdjust="spacingAndGlyphs">L147X 2%</text>
<text x="203" y="245" font-size="7.91" textLength="32.75" lengthAdjust="spacingAndGlyphs">S136X 1%</text>
<text x="256.25" y="229.25" font-size="7.91" textLength="33.75" lengthAdjust="spacingAndGlyphs">Y154X 4%</text>
<text x="265" y="195.5" font-size="10.17" font-weight="bold" font-style="italic" textLength="28.25" lengthAdjust="spacingAndGlyphs">BCL10</text>
<text x="263.75" y="264.5" font-size="7.91" textLength="23.25" lengthAdjust="spacingAndGlyphs">233 aa.</text>
<rect x="236.6" y="258.3" width="20.1" height="9.1" fill="#fff" stroke="#111" stroke-width="0.7"/>
<rect x="236.25" y="258" width="20.8" height="3.2" fill="#111" />
<polyline points="159.7,276.5 159.7,273.3 236.3,267.4" fill="none" stroke="#222" stroke-width="0.6"/>
<polyline points="257,267.4 301.8,273.7 301.8,276.5" fill="none" stroke="#222" stroke-width="0.6"/>
<rect x="159.5" y="277.9" width="142.5" height="2.1" fill="#111" />
<rect x="159.5" y="281.5" width="142.5" height="97" fill="#fbfbfb" />
<line x1="161.5" y1="285.5" x2="300" y2="285.5" stroke="#999" stroke-width="0.5" />
<rect x="167.8" y="284.3" width="4" height="2.4" fill="#111" />
<rect x="180.6" y="284.3" width="3" height="2.4" fill="#444" />
<rect x="187.7" y="284.3" width="3" height="2.4" fill="#111" />
<rect x="191.3" y="284.3" width="4" height="2.4" fill="#111" />
<rect x="196.5" y="284.3" width="3" height="2.4" fill="#111" />
<rect x="201.5" y="284.3" width="3" height="2.4" fill="#111" />
<rect x="205.1" y="284.3" width="2" height="2.4" fill="#444" />
<rect x="208.3" y="284.3" width="1.5" height="2.4" fill="#111" />
<rect x="211.8" y="284.3" width="2" height="2.4" fill="#111" />
<rect x="219.0" y="284.3" width="4" height="2.4" fill="#777" />
<rect x="238.3" y="284.3" width="4" height="2.4" fill="#111" />
<rect x="247.1" y="284.3" width="1" height="2.4" fill="#111" />
<rect x="249.3" y="284.3" width="1.5" height="2.4" fill="#111" />
<rect x="252.0" y="284.3" width="1" height="2.4" fill="#111" />
<rect x="254.2" y="284.3" width="4" height="2.4" fill="#777" />
<rect x="262.9" y="284.3" width="1" height="2.4" fill="#111" />
<rect x="264.5" y="284.3" width="3" height="2.4" fill="#777" />
<rect x="270.3" y="284.3" width="2" height="2.4" fill="#444" />
<rect x="273.5" y="284.3" width="3" height="2.4" fill="#111" />
<rect x="278.5" y="284.3" width="4" height="2.4" fill="#111" />
<rect x="284.5" y="284.3" width="4" height="2.4" fill="#444" />
<rect x="294.7" y="284.3" width="2" height="2.4" fill="#111" />
<rect x="297.9" y="284.3" width="4" height="2.4" fill="#111" />
<rect x="209.3" y="284.3" width="1.2" height="2.4" fill="#e02020" />
<rect x="226" y="284.3" width="1.2" height="2.4" fill="#e02020" />
<text x="162.5" y="288.6" font-size="1.8" fill="#777" textLength="136" lengthAdjust="spacingAndGlyphs">p36.31 p35.3 p34.3 p34.1 p32.3 p31.3 p31.1 p22.3 p21.3 p13.3 p12 q11 q12 q21.1 q21.3 q23.3 q24.3 q25.3 q31.2 q32.1 q32.2 q41 q42.13 q43 q44</text>
<line x1="161.5" y1="294.5" x2="300" y2="294.5" stroke="#999" stroke-width="0.35" />
<text x="230.7" y="295.1" font-size="1.8" fill="#555" text-anchor="middle" stroke="#fbfbfb" stroke-width="0.8" paint-order="stroke">1,640 bp</text>
<text x="181.0" y="298.3" font-size="1.7" fill="#777">85,733,200 bp</text>
<text x="209.5" y="298.3" font-size="1.7" fill="#777">85,734,400 bp</text>
<text x="238.0" y="298.3" font-size="1.7" fill="#777">85,735,600 bp</text>
<text x="266.5" y="298.3" font-size="1.7" fill="#777">85,736,800 bp</text>
<text x="295.0" y="298.3" font-size="1.7" fill="#777">85,737,1000 bp</text>
<line x1="166.0" y1="298.6" x2="166.0" y2="299.8" stroke="#888" stroke-width="0.3" />
<line x1="179.3" y1="298.6" x2="179.3" y2="299.8" stroke="#888" stroke-width="0.3" />
<line x1="192.6" y1="298.6" x2="192.6" y2="299.8" stroke="#888" stroke-width="0.3" />
<line x1="205.9" y1="298.6" x2="205.9" y2="299.8" stroke="#888" stroke-width="0.3" />
<line x1="219.2" y1="298.6" x2="219.2" y2="299.8" stroke="#888" stroke-width="0.3" />
<line x1="232.5" y1="298.6" x2="232.5" y2="299.8" stroke="#888" stroke-width="0.3" />
<line x1="245.8" y1="298.6" x2="245.8" y2="299.8" stroke="#888" stroke-width="0.3" />
<line x1="259.1" y1="298.6" x2="259.1" y2="299.8" stroke="#888" stroke-width="0.3" />
<line x1="272.4" y1="298.6" x2="272.4" y2="299.8" stroke="#888" stroke-width="0.3" />
<line x1="285.7" y1="298.6" x2="285.7" y2="299.8" stroke="#888" stroke-width="0.3" />
<line x1="299.0" y1="298.6" x2="299.0" y2="299.8" stroke="#888" stroke-width="0.3" />
<text x="160.0" y="297.6" font-size="1.7" fill="#777">bp</text>
<line x1="159.5" y1="301.6" x2="302" y2="301.6" stroke="#ddd" stroke-width="0.4" />
<rect x="159.5" y="304.7" width="142.5" height="6.8" fill="#aeaeae" />
<defs><pattern id="cov" x="159.5" y="0" width="1.9" height="10" patternUnits="userSpaceOnUse"><rect x="1.6" y="0" width="0.3" height="10" fill="#c4c4c4"/></pattern></defs>
<rect x="159.5" y="304.7" width="142.5" height="6.8" fill="url(#cov)" />
<rect x="159.5" y="304.5" width="142.5" height="1.2" fill="#c9c9c9" />
<text x="160.0" y="304" font-size="1.7" fill="#666">[0 - 11141]</text>
<rect x="180.1" y="305.8" width="1.5" height="5.5" fill="#2a3cff" />
<rect x="198.4" y="306.2" width="1.3" height="5.1" fill="#e08a1e" />
<rect x="275.2" y="306.2" width="1.3" height="5.1" fill="#e08a1e" />
<line x1="159.5" y1="311.5" x2="302" y2="311.5" stroke="#808080" stroke-width="1" />
<rect x="159.5" y="312.3" width="142.5" height="51" fill="#c9c9c9" />
<line x1="159.5" y1="313.0" x2="302" y2="313.0" stroke="#c5c5c5" stroke-width="0.5" />
<line x1="159.5" y1="314.5" x2="302" y2="314.5" stroke="#c5c5c5" stroke-width="0.5" />
<line x1="159.5" y1="316.0" x2="302" y2="316.0" stroke="#c5c5c5" stroke-width="0.5" />
<line x1="159.5" y1="317.5" x2="302" y2="317.5" stroke="#d2d2d2" stroke-width="0.5" />
<line x1="159.5" y1="319.0" x2="302" y2="319.0" stroke="#d2d2d2" stroke-width="0.5" />
<line x1="159.5" y1="320.5" x2="302" y2="320.5" stroke="#c5c5c5" stroke-width="0.5" />
<line x1="159.5" y1="322.0" x2="302" y2="322.0" stroke="#d2d2d2" stroke-width="0.5" />
<line x1="159.5" y1="323.5" x2="302" y2="323.5" stroke="#c2c2c2" stroke-width="0.5" />
<line x1="159.5" y1="325.0" x2="302" y2="325.0" stroke="#c5c5c5" stroke-width="0.5" />
<line x1="159.5" y1="326.5" x2="302" y2="326.5" stroke="#cdcdcd" stroke-width="0.5" />
<line x1="159.5" y1="328.0" x2="302" y2="328.0" stroke="#d2d2d2" stroke-width="0.5" />
<line x1="159.5" y1="329.5" x2="302" y2="329.5" stroke="#c2c2c2" stroke-width="0.5" />
<line x1="159.5" y1="331.0" x2="302" y2="331.0" stroke="#c2c2c2" stroke-width="0.5" />
<line x1="159.5" y1="332.5" x2="302" y2="332.5" stroke="#c5c5c5" stroke-width="0.5" />
<line x1="159.5" y1="334.0" x2="302" y2="334.0" stroke="#c5c5c5" stroke-width="0.5" />
<line x1="159.5" y1="335.5" x2="302" y2="335.5" stroke="#d2d2d2" stroke-width="0.5" />
<line x1="159.5" y1="337.0" x2="302" y2="337.0" stroke="#c2c2c2" stroke-width="0.5" />
<line x1="159.5" y1="338.5" x2="302" y2="338.5" stroke="#c2c2c2" stroke-width="0.5" />
<line x1="159.5" y1="340.0" x2="302" y2="340.0" stroke="#c2c2c2" stroke-width="0.5" />
<line x1="159.5" y1="341.5" x2="302" y2="341.5" stroke="#c2c2c2" stroke-width="0.5" />
<line x1="159.5" y1="343.0" x2="302" y2="343.0" stroke="#d2d2d2" stroke-width="0.5" />
<line x1="159.5" y1="344.5" x2="302" y2="344.5" stroke="#d2d2d2" stroke-width="0.5" />
<line x1="159.5" y1="346.0" x2="302" y2="346.0" stroke="#c2c2c2" stroke-width="0.5" />
<line x1="159.5" y1="347.5" x2="302" y2="347.5" stroke="#c5c5c5" stroke-width="0.5" />
<line x1="159.5" y1="349.0" x2="302" y2="349.0" stroke="#cdcdcd" stroke-width="0.5" />
<line x1="159.5" y1="350.5" x2="302" y2="350.5" stroke="#c5c5c5" stroke-width="0.5" />
<line x1="159.5" y1="352.0" x2="302" y2="352.0" stroke="#d2d2d2" stroke-width="0.5" />
<line x1="159.5" y1="353.5" x2="302" y2="353.5" stroke="#d2d2d2" stroke-width="0.5" />
<line x1="159.5" y1="355.0" x2="302" y2="355.0" stroke="#cdcdcd" stroke-width="0.5" />
<line x1="159.5" y1="356.5" x2="302" y2="356.5" stroke="#c5c5c5" stroke-width="0.5" />
<line x1="159.5" y1="358.0" x2="302" y2="358.0" stroke="#c2c2c2" stroke-width="0.5" />
<line x1="159.5" y1="359.5" x2="302" y2="359.5" stroke="#c2c2c2" stroke-width="0.5" />
<line x1="159.5" y1="361.0" x2="302" y2="361.0" stroke="#c5c5c5" stroke-width="0.5" />
<line x1="159.5" y1="362.5" x2="302" y2="362.5" stroke="#cdcdcd" stroke-width="0.5" />
<rect x="159.5" y="312.3" width="142.5" height="9" fill="#cfcfcf" opacity="0.7"/>
<polygon points="236,340.2 244,341.4 253.5,344.6 253,345.8 244,343.6 236,340.9" fill="#f4f4f4"/>
<polygon points="257.4,344.7 274.6,345.8 274.6,346.8 257.4,345.5" fill="#f4f4f4"/>
<polygon points="279.7,346.2 292,348.4 301.9,351.8 301.9,354 290,350.6 279.7,347.2" fill="#f4f4f4"/>
<polygon points="296.5,333 301.9,334.6 301.9,336.6 296.5,334" fill="#f4f4f4"/>
<polygon points="294.8,355.4 301.9,357.6 301.9,359.4 294.8,356.4" fill="#f4f4f4"/>
<polygon points="159.5,352.6 163,353.6 167.4,356.6 167,357.4 159.5,355.6" fill="#f4f4f4"/>
<polygon points="186,358.7 222.7,358.9 222.7,359.6 186,359.5" fill="#f4f4f4"/>
<polygon points="180,344.6 186.5,344.9 186.5,345.6 180,345.4" fill="#f4f4f4"/>
<line x1="159.5" y1="321.25" x2="245" y2="321.25" stroke="#66d066" stroke-width="0.4" />
<line x1="159.5" y1="340.7" x2="236" y2="340.7" stroke="#e07070" stroke-width="0.4" />
<rect x="180.1" y="320" width="1.5" height="6.3" fill="#22e022" />
<rect x="198.6" y="326.2" width="0.9" height="0.9" fill="#2a3cff" />
<rect x="230.8" y="318.3" width="0.9" height="0.9" fill="#8a3a2a" />
<rect x="254.4" y="312.4" width="2.6" height="5.6" fill="#2a2a2a" />
<text x="162.5" y="336" font-size="9.72" textLength="24.25" lengthAdjust="spacingAndGlyphs" stroke="#1a1a1a" stroke-width="0.25">E159X</text>
<text x="191.75" y="338.7" font-size="9.72" textLength="24" lengthAdjust="spacingAndGlyphs" stroke="#1a1a1a" stroke-width="0.25">Y154X</text>
<text x="219.25" y="330.4" font-size="9.72" textLength="23.25" lengthAdjust="spacingAndGlyphs" stroke="#1a1a1a" stroke-width="0.25">L147X</text>
<text x="248.5" y="333.1" font-size="9.72" textLength="24.5" lengthAdjust="spacingAndGlyphs" stroke="#1a1a1a" stroke-width="0.25">S141fs</text>
<text x="275" y="322.3" font-size="9.72" textLength="23.75" lengthAdjust="spacingAndGlyphs" stroke="#1a1a1a" stroke-width="0.25">S136X</text>
<rect x="159.5" y="363.3" width="142.5" height="1.2" fill="#e8e0d0" />
<rect x="159.5" y="363.4" width="1.4" height="0.9" fill="#e06060" />
<rect x="162.5" y="363.4" width="1.4" height="0.9" fill="#e8a040" />
<rect x="165.5" y="363.4" width="1.4" height="0.9" fill="#60c060" />
<rect x="168.5" y="363.4" width="1.4" height="0.9" fill="#60c060" />
<rect x="171.5" y="363.4" width="1.4" height="0.9" fill="#6fa0e8" />
<rect x="174.5" y="363.4" width="1.4" height="0.9" fill="#60c060" />
<rect x="177.5" y="363.4" width="1.4" height="0.9" fill="#e8a040" />
<rect x="180.5" y="363.4" width="1.4" height="0.9" fill="#e8a040" />
<rect x="183.5" y="363.4" width="1.4" height="0.9" fill="#e8a040" />
<rect x="186.5" y="363.4" width="1.4" height="0.9" fill="#e06060" />
<rect x="189.5" y="363.4" width="1.4" height="0.9" fill="#e8a040" />
<rect x="192.5" y="363.4" width="1.4" height="0.9" fill="#60c060" />
<rect x="195.5" y="363.4" width="1.4" height="0.9" fill="#e06060" />
<rect x="198.5" y="363.4" width="1.4" height="0.9" fill="#e8a040" />
<rect x="201.5" y="363.4" width="1.4" height="0.9" fill="#e8a040" />
<rect x="204.5" y="363.4" width="1.4" height="0.9" fill="#e8a040" />
<rect x="207.5" y="363.4" width="1.4" height="0.9" fill="#6fa0e8" />
<rect x="210.5" y="363.4" width="1.4" height="0.9" fill="#6fa0e8" />
<rect x="213.5" y="363.4" width="1.4" height="0.9" fill="#e8a040" />
<rect x="216.5" y="363.4" width="1.4" height="0.9" fill="#e06060" />
<rect x="219.5" y="363.4" width="1.4" height="0.9" fill="#e06060" />
<rect x="222.5" y="363.4" width="1.4" height="0.9" fill="#e06060" />
<rect x="225.5" y="363.4" width="1.4" height="0.9" fill="#e06060" />
<rect x="228.5" y="363.4" width="1.4" height="0.9" fill="#e8a040" />
<rect x="231.5" y="363.4" width="1.4" height="0.9" fill="#6fa0e8" />
<rect x="234.5" y="363.4" width="1.4" height="0.9" fill="#60c060" />
<rect x="237.5" y="363.4" width="1.4" height="0.9" fill="#60c060" />
<rect x="240.5" y="363.4" width="1.4" height="0.9" fill="#e8a040" />
<rect x="243.5" y="363.4" width="1.4" height="0.9" fill="#60c060" />
<rect x="246.5" y="363.4" width="1.4" height="0.9" fill="#60c060" />
<rect x="249.5" y="363.4" width="1.4" height="0.9" fill="#e8a040" />
<rect x="252.5" y="363.4" width="1.4" height="0.9" fill="#e06060" />
<rect x="255.5" y="363.4" width="1.4" height="0.9" fill="#e8a040" />
<rect x="258.5" y="363.4" width="1.4" height="0.9" fill="#6fa0e8" />
<rect x="261.5" y="363.4" width="1.4" height="0.9" fill="#6fa0e8" />
<rect x="264.5" y="363.4" width="1.4" height="0.9" fill="#e8a040" />
<rect x="267.5" y="363.4" width="1.4" height="0.9" fill="#e8a040" />
<rect x="270.5" y="363.4" width="1.4" height="0.9" fill="#e8a040" />
<rect x="273.5" y="363.4" width="1.4" height="0.9" fill="#e06060" />
<rect x="276.5" y="363.4" width="1.4" height="0.9" fill="#e06060" />
<rect x="279.5" y="363.4" width="1.4" height="0.9" fill="#6fa0e8" />
<rect x="282.5" y="363.4" width="1.4" height="0.9" fill="#6fa0e8" />
<rect x="285.5" y="363.4" width="1.4" height="0.9" fill="#e06060" />
<rect x="288.5" y="363.4" width="1.4" height="0.9" fill="#6fa0e8" />
<rect x="291.5" y="363.4" width="1.4" height="0.9" fill="#6fa0e8" />
<rect x="294.5" y="363.4" width="1.4" height="0.9" fill="#e06060" />
<rect x="297.5" y="363.4" width="1.4" height="0.9" fill="#e06060" />
<rect x="300.5" y="363.4" width="1.4" height="0.9" fill="#e8a040" />
<rect x="159.5" y="364.7" width="142.5" height="6.8" fill="#7a7a7a" />
<defs><pattern id="seq" x="159.5" y="364.7" width="3.2" height="3.55" patternUnits="userSpaceOnUse"><path d="M0,0 L1.6,1.8 L3.2,0 M0,3.55 L1.6,1.8 L3.2,3.55" stroke="#b8b8b8" stroke-width="0.6" fill="none"/></pattern></defs>
<rect x="159.5" y="364.7" width="142.5" height="6.8" fill="url(#seq)" />
<rect x="194" y="368" width="3.6" height="1.7" fill="#22e022" rx="0.6"/>
<rect x="205.5" y="364.8" width="3.6" height="1.7" fill="#22e022" rx="0.6"/>
<rect x="219" y="366.8" width="3.6" height="1.7" fill="#22e022" rx="0.6"/>
<rect x="206.5" y="366.6" width="3.6" height="1.7" fill="#f01818" rx="0.6"/>
<rect x="266" y="368.4" width="3.6" height="1.7" fill="#f01818" rx="0.6"/>
<rect x="274.2" y="368.4" width="3.6" height="1.7" fill="#f01818" rx="0.6"/>
<rect x="159.5" y="372.4" width="142.5" height="2.2" fill="#15158c" />
<polygon points="162.5,373.5 164.5,372.6 164.5,374.4" fill="#fbfbfb" opacity="0.8"/>
<polygon points="171.5,373.5 173.5,372.6 173.5,374.4" fill="#fbfbfb" opacity="0.8"/>
<polygon points="180.5,373.5 182.5,372.6 182.5,374.4" fill="#fbfbfb" opacity="0.8"/>
<polygon points="189.5,373.5 191.5,372.6 191.5,374.4" fill="#fbfbfb" opacity="0.8"/>
<polygon points="198.5,373.5 200.5,372.6 200.5,374.4" fill="#fbfbfb" opacity="0.8"/>
<polygon points="207.5,373.5 209.5,372.6 209.5,374.4" fill="#fbfbfb" opacity="0.8"/>
<polygon points="216.5,373.5 218.5,372.6 218.5,374.4" fill="#fbfbfb" opacity="0.8"/>
<polygon points="225.5,373.5 227.5,372.6 227.5,374.4" fill="#fbfbfb" opacity="0.8"/>
<polygon points="234.5,373.5 236.5,372.6 236.5,374.4" fill="#fbfbfb" opacity="0.8"/>
<polygon points="243.5,373.5 245.5,372.6 245.5,374.4" fill="#fbfbfb" opacity="0.8"/>
<polygon points="252.5,373.5 254.5,372.6 254.5,374.4" fill="#fbfbfb" opacity="0.8"/>
<polygon points="261.5,373.5 263.5,372.6 263.5,374.4" fill="#fbfbfb" opacity="0.8"/>
<polygon points="270.5,373.5 272.5,372.6 272.5,374.4" fill="#fbfbfb" opacity="0.8"/>
<polygon points="279.5,373.5 281.5,372.6 281.5,374.4" fill="#fbfbfb" opacity="0.8"/>
<polygon points="288.5,373.5 290.5,372.6 290.5,374.4" fill="#fbfbfb" opacity="0.8"/>
<polygon points="297.5,373.5 299.5,372.6 299.5,374.4" fill="#fbfbfb" opacity="0.8"/>
<text x="230.7" y="377.6" font-size="1.8" fill="#555" text-anchor="middle">BCL10</text>
<rect x="335.5" y="161.5" width="176.2" height="226.6" fill="none" stroke="#111" stroke-width="1.2" stroke-dasharray="1.9 1.5"/>
<text x="340" y="171.25" font-size="9.94" font-weight="bold" textLength="69.5" lengthAdjust="spacingAndGlyphs">Annotation key:</text>
<text x="339.4" y="182" font-size="7.46" font-weight="bold" textLength="46.55" lengthAdjust="spacingAndGlyphs">End response</text>
<text x="391.9" y="182" font-size="7.46" font-weight="bold" textLength="41.55" lengthAdjust="spacingAndGlyphs">aaIPI/ECOG</text>
<text x="446.9" y="182" font-size="7.46" font-weight="bold" textLength="26.3" lengthAdjust="spacingAndGlyphs">CNS-IPI</text>
<text x="488.15" y="182" font-size="7.46" font-weight="bold" textLength="14.55" lengthAdjust="spacingAndGlyphs">Age</text>
<rect x="340" y="185.9" width="5.5" height="5.4" fill="#1b4f85" />
<text x="348.25" y="191.2" font-size="7.91" fill="#222" textLength="26" lengthAdjust="spacingAndGlyphs">CR/CRu</text>
<rect x="340" y="193.55" width="5.5" height="5.4" fill="#ffe52e" />
<text x="348.25" y="198.85" font-size="7.91" fill="#222" textLength="9.2" lengthAdjust="spacingAndGlyphs">PR</text>
<rect x="340" y="201.20000000000002" width="5.5" height="5.4" fill="#c8102e" />
<text x="348.25" y="206.5" font-size="7.91" fill="#222" textLength="9.6" lengthAdjust="spacingAndGlyphs">PD</text>
<rect x="340" y="208.85000000000002" width="5.5" height="5.4" fill="#dedede" />
<text x="348.25" y="214.14999999999998" font-size="7.91" fill="#222" textLength="10" lengthAdjust="spacingAndGlyphs">NA</text>
<rect x="395" y="186.75" width="6.25" height="6.9" fill="#1b4f85" />
<text x="403.75" y="192.6" font-size="8.36" fill="#222">0</text>
<rect x="395" y="194.17" width="6.25" height="6.9" fill="#a9d6ea" />
<text x="403.75" y="200.25" font-size="8.36" fill="#222">1</text>
<rect x="395" y="201.59" width="6.25" height="6.9" fill="#fdd98c" />
<text x="403.75" y="207.9" font-size="8.36" fill="#222">2</text>
<rect x="395" y="209.01" width="6.25" height="6.9" fill="#c8102e" />
<text x="403.75" y="215.55" font-size="8.36" fill="#222">3</text>
<rect x="447.5" y="185.75" width="6.25" height="6.9" fill="#1b4f85" />
<text x="456.25" y="192.0" font-size="8.36" fill="#222">0</text>
<rect x="447.5" y="193.17" width="6.25" height="6.9" fill="#8fbcdb" />
<text x="456.25" y="199.5" font-size="8.36" fill="#222">1</text>
<rect x="447.5" y="200.59" width="6.25" height="6.9" fill="#d8eff6" />
<text x="456.25" y="207.0" font-size="8.36" fill="#222">2</text>
<rect x="447.5" y="208.01" width="6.25" height="6.9" fill="#fdf3ba" />
<text x="456.25" y="214.5" font-size="8.36" fill="#222">3</text>
<rect x="467.5" y="189.25" width="6.75" height="7.1" fill="#fdd98c" />
<text x="476.25" y="195.4" font-size="8.36" fill="#222">4</text>
<rect x="467.5" y="196.85" width="6.75" height="7.1" fill="#f58b52" />
<text x="476.25" y="202.9" font-size="8.36" fill="#222">5</text>
<rect x="467.5" y="204.45" width="6.75" height="7.1" fill="#c8102e" />
<text x="476.25" y="210.4" font-size="8.36" fill="#222">6</text>
<defs><linearGradient id="age" x1="0" y1="0" x2="0" y2="1"><stop offset="0" stop-color="#b2182b"/><stop offset="0.24" stop-color="#b82030"/><stop offset="0.38" stop-color="#f6eeee"/><stop offset="0.52" stop-color="#d3dcf0"/><stop offset="0.76" stop-color="#6a96d2"/><stop offset="1" stop-color="#1f5fae"/></linearGradient></defs>
<rect x="489.5" y="187" width="7.5" height="30" fill="url(#age)" rx="1"/>
<text x="499.3" y="190.5" font-size="8.59" fill="#222" textLength="8.4" lengthAdjust="spacingAndGlyphs">80</text>
<text x="499.3" y="200" font-size="8.59" fill="#222" textLength="8.4" lengthAdjust="spacingAndGlyphs">60</text>
<text x="499.3" y="208.9" font-size="8.59" fill="#222" textLength="8.4" lengthAdjust="spacingAndGlyphs">40</text>
<text x="499.3" y="218" font-size="8.59" fill="#222" textLength="8.4" lengthAdjust="spacingAndGlyphs">20</text>
<text x="339.4" y="227.5" font-size="7.46" font-weight="bold" textLength="19.55" lengthAdjust="spacingAndGlyphs">Stage</text>
<text x="368.65" y="227.5" font-size="7.46" font-weight="bold" textLength="39.55" lengthAdjust="spacingAndGlyphs">Serum LDH</text>
<text x="421.4" y="227.5" font-size="7.46" font-weight="bold" textLength="46.3" lengthAdjust="spacingAndGlyphs">Bone marrow</text>
<rect x="339.9" y="232.3" width="7.1" height="6.8" fill="#a9d6ea" />
<text x="350.4" y="238.2" font-size="8.25" fill="#444" textLength="3.6" lengthAdjust="spacingAndGlyphs">II</text>
<rect x="339.9" y="240.4" width="7.1" height="6.8" fill="#fdd98c" />
<text x="350.4" y="246.04999999999998" font-size="8.25" fill="#444" textLength="5.5" lengthAdjust="spacingAndGlyphs">III</text>
<rect x="339.9" y="248.5" width="7.1" height="6.8" fill="#c8102e" />
<text x="350.4" y="253.89999999999998" font-size="8.25" fill="#444" textLength="6.4" lengthAdjust="spacingAndGlyphs">IV</text>
<rect x="370.5" y="232.5" width="6.25" height="6.25" fill="#c8102e" />
<text x="379.25" y="238.25" font-size="7.91" fill="#222" textLength="28.75" lengthAdjust="spacingAndGlyphs">Elevated</text>
<rect x="370.5" y="240.3" width="6.25" height="6" fill="#f3f3f3" />
<text x="379.25" y="245.9" font-size="7.91" fill="#222" textLength="24" lengthAdjust="spacingAndGlyphs">Normal</text>
<rect x="423.25" y="232.5" width="6.25" height="6.25" fill="#5b2a86" />
<text x="433.25" y="238.25" font-size="7.91" fill="#222" textLength="40.5" lengthAdjust="spacingAndGlyphs">Involvement</text>
<rect x="423.25" y="240.3" width="6.25" height="6" fill="#f3f3f3" />
<text x="433.25" y="245.9" font-size="7.91" fill="#222" textLength="24" lengthAdjust="spacingAndGlyphs">Normal</text>
<text x="368.65" y="255" font-size="7.46" font-weight="bold" textLength="42.3" lengthAdjust="spacingAndGlyphs">B-symptoms</text>
<text x="421.9" y="255" font-size="7.46" font-weight="bold" textLength="40.8" lengthAdjust="spacingAndGlyphs">Bulky lesion</text>
<rect x="370.5" y="258" width="6.25" height="6.25" fill="#2db34a" />
<text x="379.25" y="264" font-size="7.91" fill="#222" textLength="10.5" lengthAdjust="spacingAndGlyphs">Yes</text>
<rect x="370.5" y="265.75" width="6.25" height="6" fill="#f3f3f3" />
<text x="379.25" y="271.8" font-size="7.91" fill="#222" textLength="9.5" lengthAdjust="spacingAndGlyphs">No</text>
<rect x="423.25" y="258" width="6.25" height="6.25" fill="#f57c1f" />
<text x="433.25" y="264" font-size="7.91" fill="#222" textLength="10.5" lengthAdjust="spacingAndGlyphs">Yes</text>
<rect x="423.25" y="265.75" width="6.25" height="6" fill="#f3f3f3" />
<text x="433.25" y="271.8" font-size="7.91" fill="#222" textLength="9.5" lengthAdjust="spacingAndGlyphs">No</text>
<text x="339.4" y="282.5" font-size="7.46" font-weight="bold" textLength="32.55" lengthAdjust="spacingAndGlyphs">Histology</text>
<text x="395.65" y="282.5" font-size="7.46" font-weight="bold" textLength="29.05" lengthAdjust="spacingAndGlyphs">Subtype</text>
<text x="443.15" y="282.5" font-size="7.46" font-weight="bold" textLength="24.55" lengthAdjust="spacingAndGlyphs">Cluster</text>
<rect x="339.9" y="286.25" width="7.1" height="6.3" fill="#1b4f85" />
<text x="350" y="292.0" font-size="7.91" fill="#222" textLength="42.5" lengthAdjust="spacingAndGlyphs">DLBCL, NOS</text>
<rect x="339.9" y="293.75" width="7.1" height="6.3" fill="#e6168a" />
<text x="350" y="299.5" font-size="7.91" fill="#222" textLength="16.5" lengthAdjust="spacingAndGlyphs">FL3B</text>
<rect x="339.9" y="301.25" width="7.1" height="6.3" fill="#fdf3a2" />
<text x="350" y="307.0" font-size="7.91" fill="#222" textLength="31" lengthAdjust="spacingAndGlyphs">THRLBCL</text>
<rect x="339.9" y="308.75" width="7.1" height="6.3" fill="#8dd3c7" />
<text x="350" y="314.5" font-size="7.91" fill="#222" textLength="23.5" lengthAdjust="spacingAndGlyphs">PMBCL</text>
<rect x="339.9" y="316.25" width="7.1" height="6.3" fill="#c5b0dd" />
<text x="350" y="322.0" font-size="7.91" fill="#222" textLength="23.5" lengthAdjust="spacingAndGlyphs">IVLBCL</text>
<rect x="397.5" y="286.25" width="6.75" height="6.5" fill="#f57c1f" />
<text x="406.75" y="291.4" font-size="7.91" fill="#222" textLength="15.5" lengthAdjust="spacingAndGlyphs">GCB</text>
<rect x="397.5" y="293.75" width="6.75" height="6.5" fill="#1b4f85" />
<text x="406.75" y="299.25" font-size="7.91" fill="#222" textLength="31.5" lengthAdjust="spacingAndGlyphs">Non-GCB</text>
<rect x="444.7" y="286.25" width="6.9" height="6.4" fill="#fdf3aa" />
<text x="455.5" y="292.8" font-size="7.91" fill="#222" textLength="45" lengthAdjust="spacingAndGlyphs">THRLBCL-like</text>
<rect x="444.7" y="293.75" width="6.9" height="6.4" fill="#f9b06a" />
<text x="455.5" y="300.22" font-size="7.91" fill="#222" textLength="39.5" lengthAdjust="spacingAndGlyphs">EZB/C3-like</text>
<rect x="444.7" y="301.25" width="6.9" height="6.4" fill="#7fb0d8" />
<text x="455.5" y="307.64" font-size="7.91" fill="#222" textLength="43" lengthAdjust="spacingAndGlyphs">MCD/C5-like</text>
<rect x="444.7" y="308.75" width="6.9" height="6.4" fill="#8dd3c7" />
<text x="455.5" y="315.06" font-size="7.91" fill="#222" textLength="38.25" lengthAdjust="spacingAndGlyphs">PMBCL-like</text>
<rect x="444.7" y="316.25" width="6.9" height="6.4" fill="#e5e5e5" />
<text x="455.5" y="322.48" font-size="7.91" fill="#222" textLength="33.25" lengthAdjust="spacingAndGlyphs">Indifferent</text>
<text x="338.15" y="340.25" font-size="7.46" font-weight="bold" textLength="42.05" lengthAdjust="spacingAndGlyphs">Post-GC sig.</text>
<text x="338.15" y="349" font-size="7.46" font-weight="bold" textLength="38.3" lengthAdjust="spacingAndGlyphs">#RCH/#TW</text>
<text x="340" y="358.7" font-size="7.12" fill="#333" textLength="38.75" lengthAdjust="spacingAndGlyphs" xml:space="preserve">3  2.5  2  1.5  1</text>
<defs><linearGradient id="pg" x1="0" y1="0" x2="1" y2="0"><stop offset="0" stop-color="#b81a2c"/><stop offset="0.2" stop-color="#dc6038"/><stop offset="0.4" stop-color="#f2b070"/><stop offset="0.55" stop-color="#f9e6a0"/><stop offset="0.7" stop-color="#c0a2c8"/><stop offset="0.85" stop-color="#7862ac"/><stop offset="1" stop-color="#3a3c9a"/></linearGradient></defs>
<rect x="340.6" y="360" width="38.4" height="7.7" fill="url(#pg)" rx="1.5"/>
<text x="393.15" y="340.25" font-size="7.46" font-weight="bold" textLength="38.3" lengthAdjust="spacingAndGlyphs">Alterations</text>
<rect x="394.8" y="344.0" width="6.8" height="6.4" fill="#c8102e" />
<text x="403.75" y="349.75" font-size="7.91" fill="#222" textLength="29.5" lengthAdjust="spacingAndGlyphs">Stopgain</text>
<rect x="394.8" y="351.5" width="6.8" height="6.4" fill="#f57c1f" />
<text x="403.75" y="357.25" font-size="7.91" fill="#222" textLength="25.75" lengthAdjust="spacingAndGlyphs">Splicing</text>
<rect x="394.8" y="359.0" width="6.8" height="6.4" fill="#8e44ad" />
<text x="403.75" y="364.75" font-size="7.91" fill="#222" textLength="50.5" lengthAdjust="spacingAndGlyphs">In-frame INDEL</text>
<rect x="394.8" y="366.5" width="6.8" height="6.4" fill="#1b4f85" />
<text x="403.75" y="372.25" font-size="7.91" fill="#222" textLength="71.25" lengthAdjust="spacingAndGlyphs">Nonsynonymous SNV</text>
<rect x="394.8" y="374.0" width="6.8" height="6.4" fill="#000" />
<text x="403.75" y="379.75" font-size="7.91" fill="#222" textLength="57.5" lengthAdjust="spacingAndGlyphs">Frameshift INDEL</text>
<text x="482.4" y="340.25" font-size="7.46" font-weight="bold" textLength="27.05" lengthAdjust="spacingAndGlyphs">Relapse</text>
<rect x="483.75" y="344" width="6.25" height="6.25" fill="#000" />
<text x="492.5" y="349.75" font-size="7.91" fill="#222" textLength="10.5" lengthAdjust="spacingAndGlyphs">Yes</text>
<rect x="483.75" y="352.25" width="6.25" height="5.5" fill="#f3f3f3" />
<text x="492.5" y="357.25" font-size="7.91" fill="#222" textLength="9.5" lengthAdjust="spacingAndGlyphs">No</text>
<text x="482.4" y="367.25" font-size="7.46" font-weight="bold" textLength="20.3" lengthAdjust="spacingAndGlyphs">Death</text>
<rect x="483.75" y="370.5" width="6.25" height="6.25" fill="#000" />
<text x="492.5" y="376" font-size="7.91" fill="#222" textLength="10.5" lengthAdjust="spacingAndGlyphs">Yes</text>
<rect x="483.75" y="379" width="6.25" height="5.75" fill="#f3f3f3" />
<text x="492.5" y="384" font-size="7.91" fill="#222" textLength="9.5" lengthAdjust="spacingAndGlyphs">No</text>
<rect x="0.5" y="0.4" width="519" height="393.6" fill="none" stroke="#000" stroke-width="1.1"/>
<rect x="0" y="393" width="520" height="2" fill="#000" />
</g>
</svg>
</body></html>
